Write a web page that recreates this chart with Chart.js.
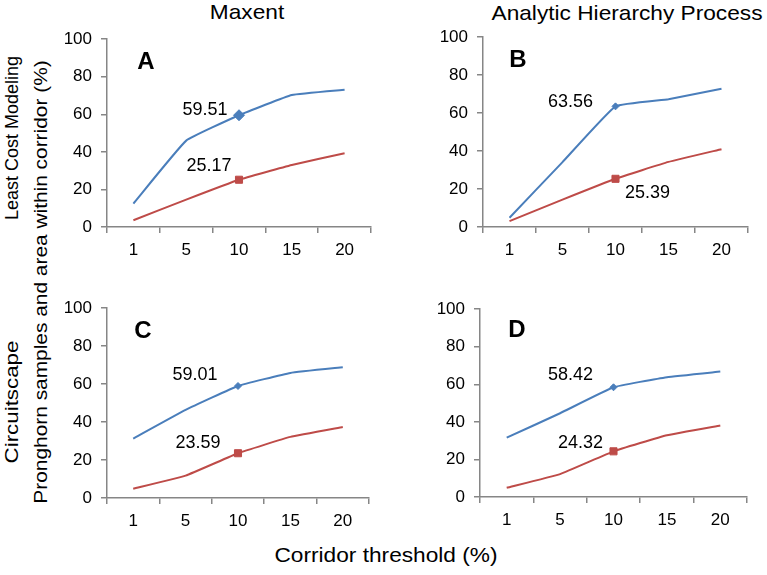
<!DOCTYPE html>
<html>
<head>
<meta charset="utf-8">
<script src="https://cdn.jsdelivr.net/npm/chart.js@4.4.1/dist/chart.umd.min.js"></script>
<style>
body{margin:0;background:#fff;overflow:hidden;}
#fig{position:relative;width:767px;height:575px;font-family:"Liberation Sans",Arial,sans-serif;color:#000;}
#fig canvas{position:absolute;}
.t{position:absolute;font-size:21px;white-space:nowrap;transform:translate(-50%,-50%) scaleX(1.08);}
.rot{font-size:18px;transform:translate(-50%,-50%) rotate(-90deg);}
.rot.long{transform:translate(-50%,-50%) rotate(-90deg) scaleX(1.16);}
.rot.wide{transform:translate(-50%,-50%) rotate(-90deg) scaleX(1.24);}
</style>
</head>
<body>
<div id="fig">
  <div class="t" style="left:247px;top:12px">Maxent</div>
  <div class="t" style="left:627px;top:13px">Analytic Hierarchy Process</div>
  <div class="t rot" style="left:12px;top:138px">Least Cost Modeling</div>
  <div class="t rot wide" style="left:12px;top:402px">Circuitscape</div>
  <div class="t rot long" style="left:41px;top:282px">Pronghorn samples and area within corridor (%)</div>
  <div class="t" style="left:386px;top:555px">Corridor threshold (%)</div>
  <canvas id="cA"></canvas>
  <canvas id="cB"></canvas>
  <canvas id="cC"></canvas>
  <canvas id="cD"></canvas>
</div>
<script>
const thresholds = ['1', '5', '10', '15', '20'];

// blue = pronghorn samples, red = area within corridor
const samplesA = [12.5, 46, 59.51, 70.3, 73.1];
const areaA = [3.6, 14.6, 25.17, 33, 39.3];
const samplesB = [4.9, 34.2, 63.56, 67.3, 72.8];
const areaB = [3.1, 14.4, 25.39, 34.3, 41];
const samplesC = [31.3, 46.4, 59.01, 65.9, 68.9];
const areaC = [4.9, 11.8, 23.59, 32.2, 37.4];
const samplesD = [31.6, 44.6, 58.42, 63.8, 66.8];
const areaD = [4.9, 12.2, 24.32, 32.9, 38.1];

const BLUE = '#4A7EBB';
const RED = '#BE4B48';
const AXIS = '#868686';
const FONT = '"Liberation Sans", Arial, sans-serif';
Chart.defaults.font.family = FONT;

// plot rectangles and label offsets, in page pixels
const panels = [
  {id: 'cA', letter: 'A', samples: samplesA, area: areaA, l: 107, t: 36, r: 371, b: 227, diamond: 5.5, sOff: [-34, -5], aOff: [-30, -14], lOff: [39, 23]},
  {id: 'cB', letter: 'B', samples: samplesB, area: areaB, l: 483, t: 34, r: 748, b: 227, diamond: 3.5, sOff: [-45, -4], aOff: [32, 14], lOff: [35, 23]},
  {id: 'cC', letter: 'C', samples: samplesC, area: areaC, l: 107, t: 305, r: 369, b: 498, diamond: 3.5, sOff: [-43, -11], aOff: [-40, -10], lOff: [36, 23]},
  {id: 'cD', letter: 'D', samples: samplesD, area: areaD, l: 480, t: 306, r: 747, b: 497, diamond: 3.5, sOff: [-43, -12], aOff: [-33, -8], lOff: [37, 21]}
];

const YW = 60, PT = 16, PR = 12, XH = 42;

const labelPlugin = {
  id: 'labels',
  afterDatasetsDraw(chart, args, opts) {
    const ctx = chart.ctx;
    const p = opts.panel;
    const area = chart.chartArea;
    ctx.save();
    ctx.fillStyle = '#000';
    ctx.textAlign = 'center';
    ctx.textBaseline = 'middle';
    ctx.font = 'bold 24px ' + FONT;
    ctx.fillText(p.letter, area.left + p.lOff[0], area.top + p.lOff[1]);
    ctx.font = '18px ' + FONT;
    [[0, p.sOff], [1, p.aOff]].forEach(([ds, off]) => {
      const pt = chart.getDatasetMeta(ds).data[2];
      const v = chart.data.datasets[ds].data[2];
      ctx.fillText(v.toFixed(2), pt.x + off[0], pt.y + off[1]);
    });
    ctx.restore();
  }
};

panels.forEach(p => {
  const cv = document.getElementById(p.id);
  cv.width = p.r - p.l + YW + PR;
  cv.height = p.b - p.t + PT + XH;
  cv.style.left = (p.l - YW) + 'px';
  cv.style.top = (p.t - PT) + 'px';
  const only10 = (r) => thresholds.map((x, i) => i === 2 ? r : 0);
  new Chart(cv, {
    type: 'line',
    data: {
      labels: thresholds,
      datasets: [
        {data: p.samples, borderColor: BLUE, backgroundColor: BLUE, borderWidth: 2, tension: 0.1,
         pointStyle: 'rectRot', pointRadius: only10(p.diamond), pointBorderWidth: 1, pointBorderColor: BLUE},
        {data: p.area, borderColor: RED, backgroundColor: RED, borderWidth: 2, tension: 0.1,
         pointStyle: 'rect', pointRadius: only10(5), pointBorderWidth: 1, pointBorderColor: RED}
      ]
    },
    options: {
      responsive: false,
      animation: false,
      events: [],
      layout: {padding: {top: PT, right: PR, left: 0, bottom: 0}},
      plugins: {legend: {display: false}, tooltip: {enabled: false}, labels: {panel: p}},
      scales: {
        x: {
          offset: true,
          grid: {offset: true, drawOnChartArea: false, color: AXIS, tickLength: 6, lineWidth: 1.5},
          border: {color: AXIS, width: 1.5},
          ticks: {color: '#000', font: {size: 17}, padding: 7, maxRotation: 0},
          afterFit: s => { s.height = XH; }
        },
        y: {
          min: 0, max: 100,
          grid: {drawOnChartArea: false, color: AXIS, tickLength: 6, lineWidth: 1.5},
          border: {color: AXIS, width: 1.5},
          ticks: {stepSize: 20, color: '#000', font: {size: 17}, padding: 9},
          afterFit: s => { s.width = YW; }
        }
      }
    },
    plugins: [labelPlugin]
  });
});
</script>
</body>
</html>
